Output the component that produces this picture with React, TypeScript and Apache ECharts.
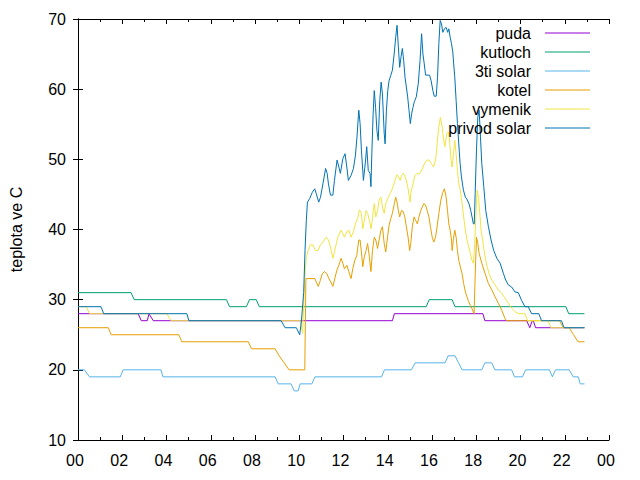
import React, { useEffect, useRef } from 'react';
import * as echarts from 'echarts';

const xTickLabels = ['00', '02', '04', '06', '08', '10', '12', '14', '16', '18', '20', '22', '00'];
const yAxisTitle = 'teplota ve C';
const seriesNames = ['puda', 'kutloch', '3ti solar', 'kotel', 'vymenik', 'privod solar'];
const seriesColors = ['#9400d3', '#009e73', '#56b4e9', '#e69f00', '#f0e442', '#0072b2'];

// [hour of day, temperature °C]
const puda = [[0,28],[2.72,28],[2.86,27],[3.13,27],[3.21,28],[3.40,27],[14.21,27],[14.30,28],[18.30,28],[18.39,27],[20.28,27],[20.42,26],[20.53,27],[20.58,27],[20.68,26],[22.89,26]];

const kutloch = [[0,31],[2.40,31],[2.54,30],[6.71,30],[6.85,29],[7.61,29],[7.75,30],[8.06,30],[8.19,29],[15.74,29],[15.87,30],[16.91,30],[17.04,29],[22.05,29],[22.18,28],[22.89,28]];

const triSolar = [[0,20],[0.29,20],[0.52,19],[1.91,19],[2.04,20],[3.75,20],[3.84,19],[8.91,19],[9.05,18],[9.63,18],[9.77,17],[9.95,17],[10.04,18],[10.57,18],[10.71,19],[13.72,19],[13.85,20],[15.07,20],[15.24,21],[16.59,21],[16.73,22],[17.04,22],[17.20,21],[17.36,20],[18.25,20],[18.39,21],[18.70,21],[18.84,20],[19.60,20],[19.73,19],[20.09,19],[20.23,20],[21.31,20],[21.44,19],[21.58,20],[22.20,20],[22.38,19],[22.61,19],[22.70,18],[22.89,18]];

const kotel = [[0,26],[1.37,26],[1.50,25],[4.56,25],[4.69,24],[7.70,24],[7.84,23],[8.91,23],[9.09,22],[9.32,21],[9.54,20],[10.25,20],[10.30,33],
[10.32,33.0],[10.71,33.0],[10.77,32.5],[10.86,31.9],[10.95,32.7],[11.04,33.7],[11.14,34.0],[11.25,33.7],[11.34,33.0],[11.43,32.5],[11.52,31.9],[11.59,32.8],[11.70,34.2],[11.79,34.9],[11.89,35.9],[11.97,35.2],[12.04,34.4],[12.15,34.9],[12.24,34.0],[12.34,33.0],[12.42,34.4],[12.51,35.6],[12.60,36.3],[12.69,38.5],[12.75,38.5],[12.81,36.8],[12.87,34.7],[12.94,36.1],[13.02,37.0],[13.09,38.0],[13.17,36.1],[13.24,34.0],[13.31,37.0],[13.39,38.9],[13.46,38.5],[13.54,37.3],[13.61,38.5],[13.69,39.9],[13.76,40.4],[13.84,38.0],[13.91,36.8],[13.99,38.9],[14.06,40.6],[14.14,41.6],[14.21,42.3],[14.30,43.7],[14.36,44.6],[14.42,43.9],[14.48,42.7],[14.54,41.8],[14.62,42.7],[14.69,42.6],[14.77,41.8],[14.84,40.4],[14.92,38.9],[14.99,37.0],[15.04,38.0],[15.11,40.4],[15.19,41.8],[15.26,41.3],[15.34,40.8],[15.41,41.8],[15.49,42.7],[15.56,43.2],[15.63,43.7],[15.71,43.5],[15.78,42.7],[15.86,41.8],[15.93,40.4],[16.01,38.9],[16.08,38.2],[16.16,38.9],[16.23,40.4],[16.31,42.3],[16.40,44.2],[16.49,45.3],[16.56,45.8],[16.64,44.6],[16.70,42.7],[16.76,40.8],[16.82,39.9],[16.88,38.5],[16.91,37.0],[16.97,38.7],[17.03,39.9],[17.09,38.9],[17.15,37.0],[17.21,35.6],[17.28,34.7],[17.36,33.7],[17.43,32.3],[17.51,31.1],[17.58,30.4],[17.66,29.7],[17.73,29.2],[17.81,28.7],[17.90,28.0],[17.95,33.2],[18.01,38.9],[18.07,38.0],[18.13,36.6],[18.25,35.2],[18.40,33.7],[18.55,32.3],[18.70,31.4],[18.85,30.4],[19.00,29.5],[19.15,28.5],[19.30,27.3],[19.38,27],[21.76,27],[21.94,26],[22.20,26],[22.40,25],[22.60,24],[22.89,24]];

const vymenik = [[0,29],[0.38,29],[0.52,28],[4.02,28],[4.20,27],[10.05,27],[10.15,25.2],[10.25,33],[10.32,36],[10.40,37.0],
[10.50,37.8],[10.62,37.8],[10.73,37.0],[10.85,37.0],[10.95,37.8],[11.07,38.2],[11.22,38.9],[11.32,38.5],[11.41,37.5],[11.52,35.9],[11.64,37.5],[11.74,38.9],[11.89,39.9],[11.97,39.4],[12.04,38.9],[12.15,39.7],[12.24,39.9],[12.34,38.9],[12.45,39.7],[12.54,40.8],[12.64,41.6],[12.72,42.8],[12.81,42.3],[12.87,40.1],[12.94,41.3],[13.02,42.7],[13.09,42.3],[13.17,41.3],[13.25,40.1],[13.31,41.6],[13.39,43.7],[13.46,41.8],[13.54,42.7],[13.61,44.2],[13.69,44.6],[13.76,43.2],[13.84,42.3],[13.91,43.7],[14.03,44.6],[14.14,45.3],[14.24,46.1],[14.33,47.0],[14.41,47.8],[14.48,47.5],[14.56,47.0],[14.63,47.7],[14.71,48.0],[14.78,47.5],[14.84,47.0],[14.92,45.8],[15.01,43.9],[15.05,45.3],[15.14,46.5],[15.23,47.7],[15.32,48.0],[15.41,47.9],[15.50,48.2],[15.59,48.9],[15.68,49.5],[15.77,49.9],[15.86,49.9],[15.98,49.4],[16.07,48.9],[16.13,49.6],[16.19,50.6],[16.23,52.2],[16.31,54.6],[16.38,56.0],[16.46,54.6],[16.52,52.9],[16.58,51.8],[16.67,53.7],[16.73,53.9],[16.79,52.9],[16.86,49.9],[16.91,48.9],[16.97,50.8],[17.03,52.7],[17.09,50.8],[17.15,48.4],[17.21,46.5],[17.28,45.6],[17.36,43.7],[17.43,41.8],[17.51,39.9],[17.58,38.5],[17.66,37.5],[17.73,36.6],[17.81,35.6],[17.87,35.2],[17.93,38.0],[17.98,41.8],[18.04,45.6],[18.10,44.6],[18.16,42.3],[18.22,39.9],[18.31,38.0],[18.40,36.1],[18.49,34.7],[18.58,33.7],[18.70,32.8],[18.85,32.1],[19.00,31.4],[19.15,30.9],[19.30,30.2],[19.45,29.5],[19.60,28.8],[19.75,28.3],[19.90,28],[20.20,28],[20.32,27],[21.25,27],[21.37,26],[22.89,26]];

const privodSolar = [[0,29],[1.04,29],[1.16,28],[4.92,28],[5.01,27],[9.18,27],[9.36,26],[9.87,26],[10.02,25],[10.10,27],[10.20,31],[10.26,37],[10.32,41.3],[10.37,43.9],
[10.47,44.4],[10.59,45.3],[10.70,45.8],[10.77,45.1],[10.88,43.9],[10.96,44.6],[11.07,46.5],[11.19,48.7],[11.26,48.0],[11.32,46.5],[11.41,44.9],[11.52,44.9],[11.59,47.0],[11.71,49.9],[11.79,48.9],[11.86,48.0],[11.97,50.1],[12.07,50.8],[12.15,48.9],[12.22,47.0],[12.34,47.7],[12.45,48.7],[12.54,50.6],[12.61,53.2],[12.69,57.0],[12.75,55.1],[12.81,51.3],[12.90,47.0],[12.99,49.6],[13.05,51.8],[13.12,48.4],[13.20,48.0],[13.24,46.1],[13.28,50.8],[13.34,56.5],[13.39,59.8],[13.45,57.4],[13.51,54.1],[13.57,52.7],[13.64,58.4],[13.70,61.0],[13.76,59.3],[13.84,53.7],[13.88,52.2],[13.94,57.0],[14.00,59.8],[14.06,61.2],[14.14,62.0],[14.21,62.7],[14.29,65.0],[14.36,67.4],[14.42,69.1],[14.48,66.0],[14.54,63.1],[14.60,64.6],[14.66,65.8],[14.72,64.1],[14.78,61.7],[14.84,60.3],[14.90,58.9],[14.96,57.0],[15.02,55.1],[15.08,56.5],[15.14,57.4],[15.20,58.2],[15.29,58.9],[15.38,60.8],[15.46,64.1],[15.53,67.9],[15.59,65.0],[15.65,63.6],[15.71,62.0],[15.89,62.0],[15.96,61.2],[16.04,59.8],[16.10,59.0],[16.19,59.0],[16.25,61.7],[16.31,66.5],[16.37,69.8],[16.43,69.3],[16.49,68.1],[16.56,68.6],[16.64,68.8],[16.71,68.1],[16.76,68.6],[16.82,67.4],[16.88,66.5],[16.94,65.3],[16.98,63.6],[17.03,61.7],[17.09,58.4],[17.15,55.1],[17.21,52.2],[17.27,49.4],[17.33,47.5],[17.42,45.6],[17.51,44.6],[17.60,44.2],[17.69,43.5],[17.75,42.7],[17.81,41.8],[17.87,40.8],[17.91,40.8],[17.95,45.1],[18.01,51.3],[18.07,56.0],[18.13,57.0],[18.19,53.2],[18.25,49.4],[18.34,46.1],[18.43,42.7],[18.55,40.4],[18.67,38.5],[18.79,37.0],[18.93,35.9],[19.08,35.2],[19.23,33.7],[19.33,32.8],[19.45,32.1],[19.60,31.8],[19.75,31.1],[19.90,31.0],[20.05,29.9],[20.20,29.0],[20.35,29.0],[20.50,28],[20.83,28],[20.95,27],[21.85,27],[21.97,26],[22.89,26]];

const seriesData = [puda, kutloch, triSolar, kotel, vymenik, privodSolar];

const FONT = '"Liberation Sans", Arial, sans-serif';

export default function App() {
  const ref = useRef<HTMLDivElement>(null);
  useEffect(() => {
    if (!ref.current) return;
    const chart = echarts.init(ref.current, null, { renderer: 'svg' });
    const axisCommon = {
      axisLine: { show: true, lineStyle: { color: '#000', width: 1 } },
      axisTick: { show: true, inside: true, length: 5, lineStyle: { color: '#000' } },
      splitLine: { show: false },
    };
    const legendGraphics: any[] = [];
    seriesNames.forEach((name, i) => {
      const y = 33 + i * 19;
      legendGraphics.push({
        type: 'text', x: 531, y, style: { text: name, fill: '#000', font: `16px ${FONT}`, textAlign: 'right', textVerticalAlign: 'middle' }, z: 100,
      });
      legendGraphics.push({
        type: 'line', shape: { x1: 545, y1: y, x2: 590, y2: y }, style: { stroke: seriesColors[i], lineWidth: 1 }, z: 100,
      });
    });
    chart.setOption({
      animation: false,
      backgroundColor: '#fff',
      grid: { left: 75, right: 31, top: 19, bottom: 40, containLabel: false },
      xAxis: [
        {
          type: 'value', min: 0, max: 24, interval: 2, position: 'bottom',
          ...axisCommon,
          minorTick: { show: true, splitNumber: 2, length: 3, lineStyle: { color: '#000' } },
          axisLabel: { fontSize: 16, fontFamily: FONT, color: '#000', margin: 12, padding: [0, 6, 0, 0], formatter: (v: number) => xTickLabels[Math.round(v / 2)] },
        },
        {
          type: 'value', min: 0, max: 24, interval: 2, position: 'top',
          ...axisCommon,
          minorTick: { show: true, splitNumber: 2, length: 3, lineStyle: { color: '#000' } },
          axisLabel: { show: false },
        },
      ],
      yAxis: [
        {
          type: 'value', min: 10, max: 70, interval: 10, position: 'left',
          ...axisCommon,
          axisLabel: { fontSize: 16, fontFamily: FONT, color: '#000', margin: 12 },
          name: yAxisTitle, nameLocation: 'middle', nameRotate: 90, nameGap: 54,
          nameTextStyle: { fontSize: 16, fontFamily: FONT, color: '#000' },
        },
        {
          type: 'value', min: 10, max: 70, interval: 10, position: 'right',
          ...axisCommon,
          axisLabel: { show: false },
        },
      ],
      graphic: legendGraphics,
      series: seriesNames.map((name, i) => ({
        name, type: 'line', xAxisIndex: 0, yAxisIndex: 0,
        data: seriesData[i], showSymbol: false, symbol: 'none',
        lineStyle: { color: seriesColors[i], width: 1 },
        itemStyle: { color: seriesColors[i] },
        emphasis: { disabled: true },
      })),
    });
    return () => chart.dispose();
  }, []);
  return <div ref={ref} style={{ width: 640, height: 480, position: 'absolute', left: 0, top: 0 }} />;
}
